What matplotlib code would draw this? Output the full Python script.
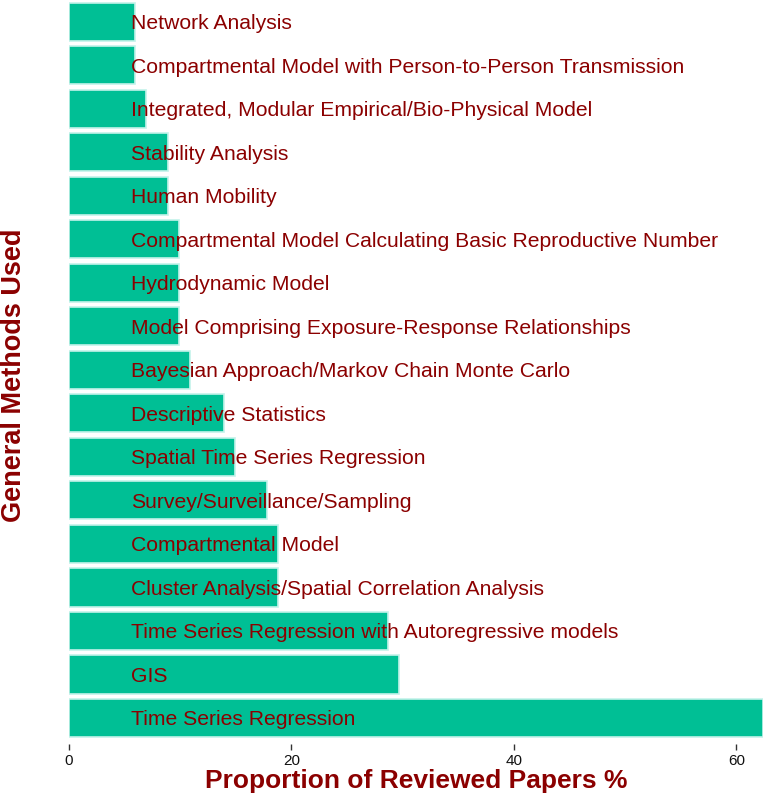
import matplotlib
matplotlib.use("Agg")
import matplotlib.pyplot as plt

plt.rcParams["font.family"] = ["Liberation Sans", "DejaVu Sans"]

BAR_COLOR = "#00BF95"
EDGE_COLOR = "#c4f2ea"
TEXT_RED = "#8B0000"

# bottom to top
methods = [
    "Time Series Regression",
    "GIS",
    "Time Series Regression with Autoregressive models",
    "Cluster Analysis/Spatial Correlation Analysis",
    "Compartmental Model",
    "Survey/Surveillance/Sampling",
    "Spatial Time Series Regression",
    "Descriptive Statistics",
    "Bayesian Approach/Markov Chain Monte Carlo",
    "Model Comprising Exposure-Response Relationships",
    "Hydrodynamic Model",
    "Compartmental Model Calculating Basic Reproductive Number",
    "Human Mobility",
    "Stability Analysis",
    "Integrated, Modular Empirical/Bio-Physical Model",
    "Compartmental Model with Person-to-Person Transmission",
    "Network Analysis",
]
proportions = [62.4, 29.7, 28.7, 18.8, 18.8, 17.8, 14.9, 13.9, 10.9,
               9.9, 9.9, 9.9, 8.9, 8.9, 6.9, 5.9, 5.9]
x_ticks = [0, 20, 40, 60]

fig = plt.figure(figsize=(7.65, 7.99), dpi=100)
ax = fig.add_axes([69 / 765, 55 / 799, 694 / 765, 744 / 799])

pos = list(range(len(methods)))
ax.barh(pos, proportions, height=0.88, color=BAR_COLOR,
        edgecolor=EDGE_COLOR, linewidth=1.2)

for y, name in zip(pos, methods):
    ax.text(5.6, y - 0.04, name, ha="left", va="center", fontsize=15.2,
            color=TEXT_RED)

ax.set_xlim(0, max(proportions))
ax.set_ylim(-0.6, len(methods) - 0.5)
ax.set_xticks(x_ticks)
ax.set_yticks([])
ax.tick_params(axis="x", length=4, width=1, color="#333333",
               labelsize=11, labelcolor="#111111", pad=3)
for sp in ax.spines.values():
    sp.set_visible(False)

ax.set_xlabel("Proportion of Reviewed Papers %", fontsize=19,
              fontweight="bold", color=TEXT_RED, labelpad=1)
ax.set_ylabel("General Methods Used", fontsize=19.5, fontweight="bold",
              color=TEXT_RED)
ax.yaxis.set_label_coords(-42 / 694, 0.496)

fig.savefig("out.png", dpi=100)
